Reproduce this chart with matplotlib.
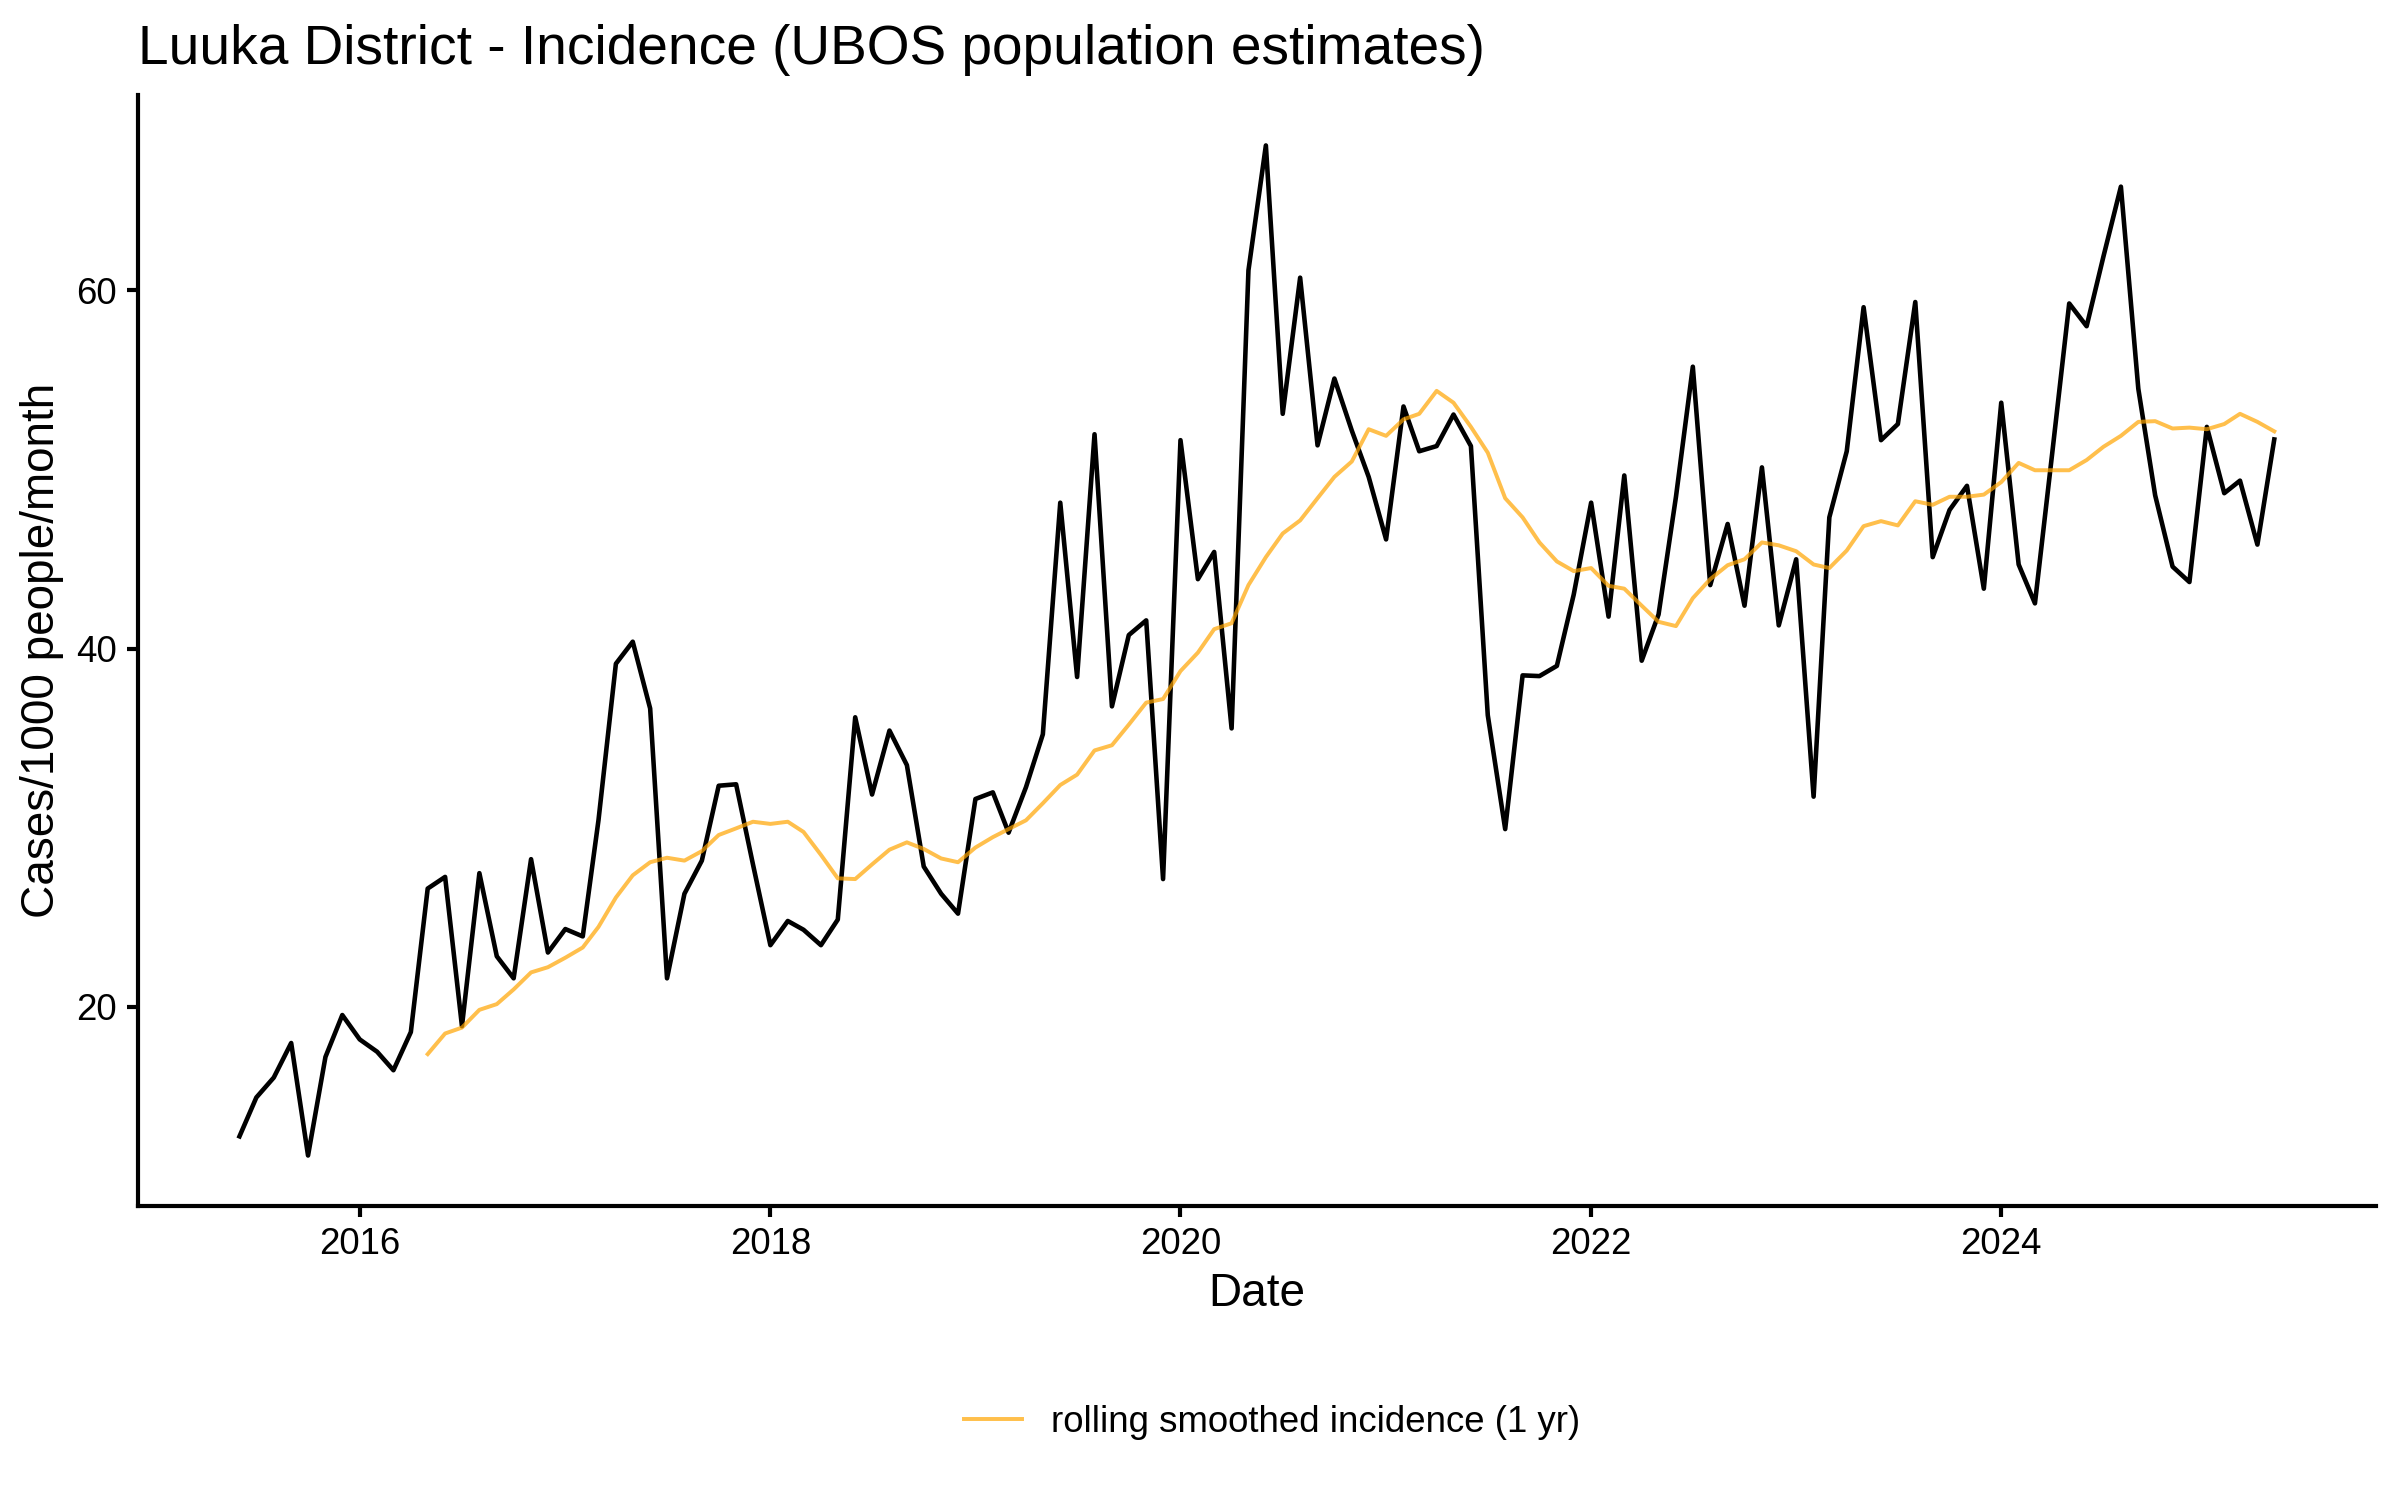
"""
Luuka District monthly incidence with a 1-year rolling mean
(values read off the reference chart)
"""
import pandas as pd
import matplotlib.pyplot as plt

plt.rcParams['font.family'] = ['Liberation Sans', 'DejaVu Sans']

# monthly incidence, cases per 1000 people per month, Jun 2015 - May 2025
incidence = [
    12.78, 14.95, 16.06, 17.99, 11.71, 17.21, 19.55, 18.19, 17.50, 16.47,
    18.60, 26.61, 27.26, 18.93, 27.47, 22.83, 21.60, 28.25, 23.04, 24.35,
    23.94, 30.42, 39.16, 40.39, 36.66, 21.60, 26.32, 28.17, 32.35, 32.43,
    27.96, 23.45, 24.80, 24.31, 23.45, 24.88, 36.17, 31.86, 35.43, 33.50,
    27.84, 26.32, 25.21, 31.61, 31.98, 29.73, 32.27, 35.22, 48.15, 38.42,
    51.97, 36.78, 40.76, 41.58, 27.14, 51.64, 43.88, 45.40, 35.55, 61.12,
    68.09, 53.11, 60.71, 51.35, 55.08, 52.17, 49.59, 46.10, 53.52, 51.02,
    51.31, 53.07, 51.31, 36.29, 29.93, 38.51, 38.47, 39.04, 43.02, 48.15,
    41.79, 49.67, 39.33, 41.91, 48.48, 55.74, 43.55, 46.96, 42.40, 50.12,
    41.30, 44.99, 31.74, 47.33, 51.02, 59.06, 51.64, 52.54, 59.35, 45.11,
    47.74, 49.09, 43.35, 53.73, 44.70, 42.53, 50.98, 59.27, 58.00, 61.90,
    65.79, 54.51, 48.56, 44.58, 43.72, 52.38, 48.68, 49.38, 45.81, 51.68,
]

# 1-year rolling smoothed incidence, May 2016 - May 2025
rolling = [
    17.37, 18.52, 18.85, 19.84, 20.16, 20.98, 21.93, 22.22, 22.75, 23.32,
    24.47, 26.11, 27.35, 28.08, 28.33, 28.17, 28.70, 29.60, 29.97, 30.34,
    30.22, 30.34, 29.77, 28.49, 27.18, 27.14, 27.96, 28.78, 29.19, 28.82,
    28.29, 28.08, 28.90, 29.48, 29.93, 30.42, 31.37, 32.39, 32.97, 34.32,
    34.61, 35.76, 36.99, 37.19, 38.75, 39.78, 41.09, 41.42, 43.55, 45.11,
    46.43, 47.16, 48.40, 49.59, 50.45, 52.25, 51.88, 52.80, 53.11, 54.39,
    53.73, 52.38, 50.94, 48.40, 47.33, 45.93, 44.87, 44.33, 44.50, 43.51,
    43.35, 42.40, 41.50, 41.26, 42.82, 43.88, 44.66, 44.99, 45.93, 45.77,
    45.44, 44.70, 44.50, 45.48, 46.84, 47.12, 46.88, 48.23, 48.03, 48.48,
    48.48, 48.60, 49.30, 50.37, 49.96, 49.96, 49.96, 50.53, 51.27, 51.88,
    52.66, 52.70, 52.29, 52.34, 52.25, 52.54, 53.11, 52.66, 52.13,
]

dates = pd.date_range('2015-06-01', periods=len(incidence), freq='MS')
rolling_dates = dates[len(incidence) - len(rolling):]

year_ticks = pd.to_datetime(['2016-01-01', '2018-01-01', '2020-01-01',
                             '2022-01-01', '2024-01-01'])
year_labels = ['2016', '2018', '2020', '2022', '2024']

fig = plt.figure(figsize=(8, 5), dpi=300)
ax = fig.add_axes([0.0574, 0.196, 0.9326, 0.7407])

ax.plot(dates, incidence, color='black', linewidth=1.1)
ax.plot(rolling_dates, rolling, color='orange', alpha=0.7, linewidth=0.95,
        label='rolling smoothed incidence (1 yr)')

ax.margins(x=0.05, y=0.05)
ax.set_xticks(year_ticks)
ax.set_xticklabels(year_labels)
ax.set_yticks([20, 40, 60])

for side in ['top', 'right']:
    ax.spines[side].set_visible(False)
for side in ['left', 'bottom']:
    ax.spines[side].set_linewidth(1.0)
ax.tick_params(axis='both', labelsize=8.8, length=2.75, width=1.0,
               colors='black', pad=2.2)

ax.set_xlabel('Date', fontsize=11)
ax.set_ylabel('Cases/1000 people/month', fontsize=11)
ax.xaxis.set_label_coords(0.5, -0.059)
ax.yaxis.set_label_coords(-0.033, 0.5)

fig.text(0.0574, 0.957, 'Luuka District - Incidence (UBOS population estimates)',
         fontsize=13.2, ha='left', va='baseline')

fig.legend(loc='center', bbox_to_anchor=(0.53, 0.052), frameon=False,
           fontsize=8.8, handlelength=1.58, handletextpad=0.8)

fig.savefig('out.png', dpi=300)
